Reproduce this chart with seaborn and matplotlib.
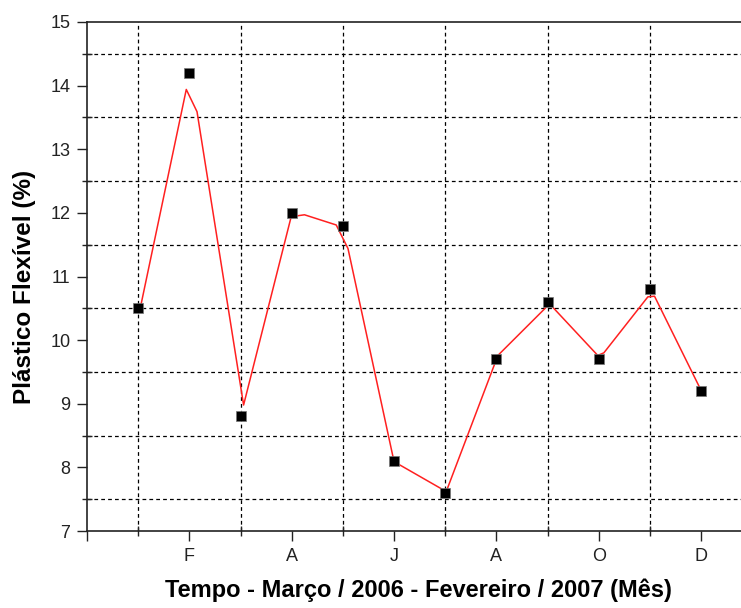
import matplotlib
matplotlib.use("Agg")
import matplotlib.pyplot as plt
import seaborn as sns
import pandas as pd
from matplotlib.ticker import FixedLocator, MultipleLocator

# Measured points (month index 1..12, Mar/2006 .. Feb/2007)
month_idx = [1, 2, 3, 4, 5, 6, 7, 8, 9, 10, 11, 12]
plastic = [10.5, 14.2, 8.8, 12.0, 11.8, 8.1, 7.6, 9.7, 10.6, 9.7, 10.8, 9.2]

# Smoothed red curve vertices
curve_x = [1.04, 1.94, 2.15, 3.06, 3.99, 4.25, 4.87, 5.10, 6.00, 7.02, 8.03, 9.04, 9.98, 10.10, 10.96, 11.09, 12.0]
curve_y = [10.5, 13.94, 13.59, 8.98, 11.94, 11.97, 11.81, 11.44, 8.09, 7.62, 9.76, 10.57, 9.76, 9.80, 10.68, 10.69, 9.21]

tick_pos = [0, 2, 4, 6, 8, 10, 12]
tick_labels = ["", "F", "A", "J", "A", "O", "D"]

sns.set_theme(style="white")
plt.rcParams["font.family"] = ["Liberation Sans", "DejaVu Sans"]

fig = plt.figure(figsize=(7.41, 6.08), dpi=100)
ax = fig.add_axes([87/741, 1 - 531/608, (741 - 87)/741, (531 - 22)/608])

df_pts = pd.DataFrame({"m": month_idx, "v": plastic})
df_cur = pd.DataFrame({"m": curve_x, "v": curve_y})

sns.lineplot(data=df_cur, x="m", y="v", ax=ax, color="#ff2020", linewidth=1.1,
             sort=False, estimator=None, zorder=3)
sns.scatterplot(data=df_pts, x="m", y="v", ax=ax, marker="s", s=55, color="black",
                edgecolor="#777777", linewidth=0.5, zorder=4)

ax.set_xlim(0, 12.78)
ax.set_ylim(7, 15)

ax.xaxis.set_major_locator(FixedLocator(tick_pos))
ax.set_xticklabels(tick_labels)
ax.xaxis.set_minor_locator(FixedLocator([1, 3, 5, 7, 9, 11]))
ax.yaxis.set_major_locator(MultipleLocator(1))
ax.yaxis.set_minor_locator(FixedLocator([7.5, 8.5, 9.5, 10.5, 11.5, 12.5, 13.5, 14.5]))

ax.grid(False, which="major")
ax.grid(True, which="minor", color="black", linestyle=(0, (3, 2.5)), linewidth=0.9)

ax.tick_params(axis="both", which="major", direction="out", length=7, width=1.0,
               color="#222222", labelsize=13, labelcolor="#222222", pad=5, left=True, bottom=True)
ax.tick_params(axis="both", which="minor", direction="inout", length=7, width=1.0,
               color="#222222", left=True, bottom=True)

for side in ["left", "bottom", "top"]:
    ax.spines[side].set_visible(True)
    ax.spines[side].set_color("#222222")
    ax.spines[side].set_linewidth(1.2)
ax.spines["right"].set_visible(False)

ax.set_xlabel("Tempo - Março / 2006 - Fevereiro / 2007 (Mês)", fontsize=17,
              fontweight="bold", color="black", va="center")
ax.set_ylabel("Plástico Flexível (%)", fontsize=17.5, fontweight="bold",
              color="black", va="center")
ax.xaxis.set_label_coords((418 - 87) / 654, (531 - 590) / 509)
ax.yaxis.set_label_coords((25 - 87) / 654, (531 - 287) / 509)

fig.savefig("out.png", dpi=100)
